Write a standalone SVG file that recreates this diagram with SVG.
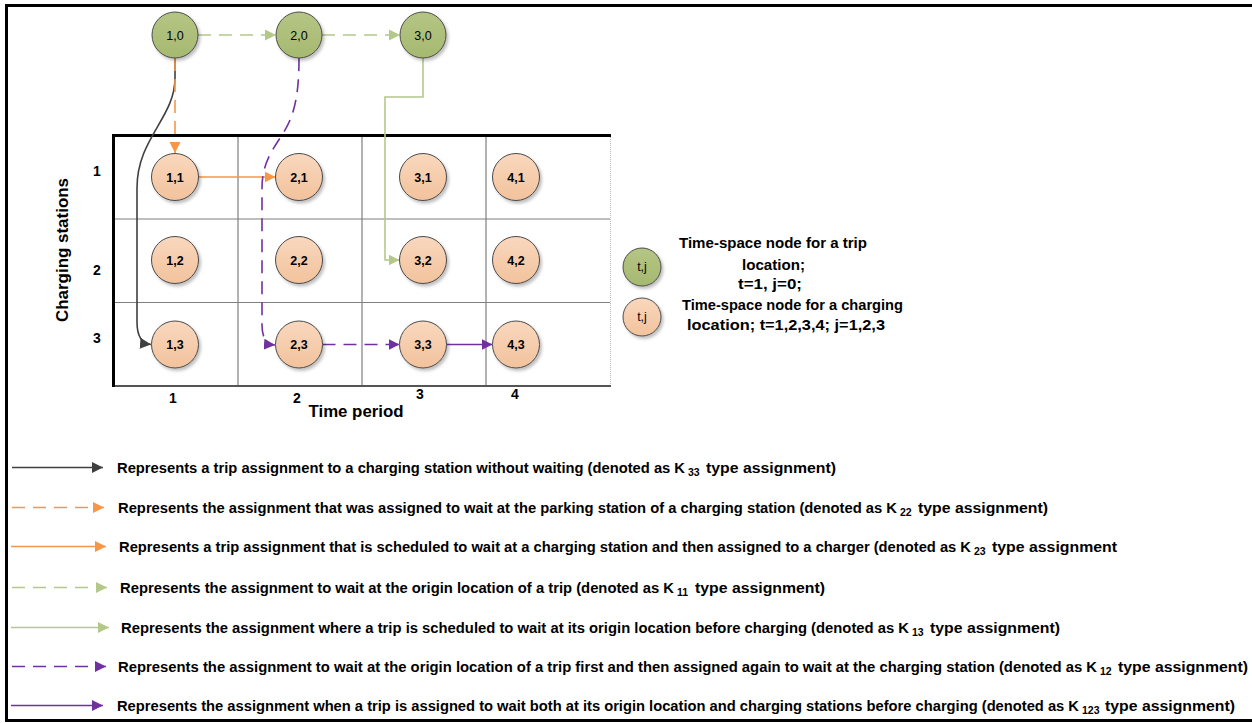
<svg xmlns="http://www.w3.org/2000/svg" width="1252" height="723" viewBox="0 0 1252 723">
  <style>
    text { font-family: "Liberation Sans", Arial, sans-serif; fill: #000; }
    .b { font-weight: bold; }
    .nl { font-size: 12.5px; font-weight: bold; text-anchor: middle; }
    .tl { font-size: 12.5px; text-anchor: middle; }
    .lg { font-size: 14.3px; font-weight: bold; }
    .sub { font-size: 10.5px; font-weight: bold; }
    .cs { fill: url(#gOrange); stroke: #4a4a4a; stroke-width: 1; filter: url(#sh); }
    .ts { fill: url(#gGreen); stroke: #4a4a4a; stroke-width: 1; filter: url(#sh); }
    .dark { stroke: #404040; }
    .orange { stroke: #F79646; }
    .green { stroke: #B4C88A; }
    .purple { stroke: #7030A0; }
    .ln { fill: none; stroke-width: 1.6; }
    .dash { stroke-dasharray: 13 8; }
    .grid { stroke: #7f7f7f; stroke-width: 1.2; fill: none; }
  </style>
  <defs>
    <linearGradient id="gOrange" x1="0" y1="0" x2="0" y2="1">
      <stop offset="0" stop-color="#F9D8BE"/>
      <stop offset="1" stop-color="#F2C29C"/>
    </linearGradient>
    <linearGradient id="gGreen" x1="0" y1="0" x2="0" y2="1">
      <stop offset="0" stop-color="#B5C585"/>
      <stop offset="1" stop-color="#A6B96F"/>
    </linearGradient>
    <filter id="sh" x="-30%" y="-30%" width="170%" height="170%">
      <feDropShadow dx="2" dy="2.5" stdDeviation="1.5" flood-color="#000" flood-opacity="0.25"/>
    </filter>
    <marker id="aDark" markerUnits="userSpaceOnUse" markerWidth="12" markerHeight="12" refX="11" refY="5.5" orient="auto">
      <path d="M0,0 L11,5.5 L0,11 Z" fill="#404040"/>
    </marker>
    <marker id="aOrange" markerUnits="userSpaceOnUse" markerWidth="12" markerHeight="12" refX="11" refY="5.5" orient="auto">
      <path d="M0,0 L11,5.5 L0,11 Z" fill="#F79646"/>
    </marker>
    <marker id="aGreen" markerUnits="userSpaceOnUse" markerWidth="12" markerHeight="12" refX="11" refY="5.5" orient="auto">
      <path d="M0,0 L11,5.5 L0,11 Z" fill="#B4C88A"/>
    </marker>
    <marker id="aPurple" markerUnits="userSpaceOnUse" markerWidth="12" markerHeight="12" refX="11" refY="5.5" orient="auto">
      <path d="M0,0 L11,5.5 L0,11 Z" fill="#7030A0"/>
    </marker>
  </defs>

  <rect width="1252" height="723" fill="#fff"/>
  <!-- outer frame (open on the right) -->
  <rect x="6.5" y="5.5" width="1270" height="715" fill="none" stroke="#000" stroke-width="3"/>

  <!-- time-space grid -->
  <g id="grid">
    <line class="grid" x1="113" y1="219" x2="610" y2="219"/>
    <line class="grid" x1="113" y1="302.5" x2="610" y2="302.5"/>
    <line class="grid" x1="238" y1="135" x2="238" y2="386"/>
    <line class="grid" x1="362" y1="135" x2="362" y2="386"/>
    <line class="grid" x1="486" y1="135" x2="486" y2="386"/>
    <line x1="610.5" y1="135" x2="610.5" y2="386" stroke="#b8b8b8" stroke-width="1" stroke-dasharray="1 1"/>
    <line x1="113" y1="386" x2="611" y2="386" stroke="#555" stroke-width="2"/>
    <line x1="112" y1="135.5" x2="611" y2="135.5" stroke="#000" stroke-width="3"/>
    <line x1="113.5" y1="134" x2="113.5" y2="387" stroke="#000" stroke-width="3"/>
  </g>

  <!-- axis labels -->
  <g id="axes">
    <text class="b" font-size="17" text-anchor="middle" textLength="144" lengthAdjust="spacingAndGlyphs" transform="translate(68,250) rotate(-90)">Charging stations</text>
    <text class="b" font-size="14" text-anchor="middle" x="97" y="176">1</text>
    <text class="b" font-size="14" text-anchor="middle" x="97" y="275">2</text>
    <text class="b" font-size="14" text-anchor="middle" x="97" y="343">3</text>
    <text class="b" font-size="14" text-anchor="middle" x="173" y="403">1</text>
    <text class="b" font-size="14" text-anchor="middle" x="297" y="403">2</text>
    <text class="b" font-size="14" text-anchor="middle" x="420" y="399">3</text>
    <text class="b" font-size="14" text-anchor="middle" x="515" y="399">4</text>
    <text class="b" font-size="17" text-anchor="middle" x="356" y="417" textLength="95" lengthAdjust="spacingAndGlyphs">Time period</text>
  </g>

  <!-- connectors -->
  <g id="connectors">
    <path class="ln green dash" d="M198,35 L276,35" marker-end="url(#aGreen)"/>
    <path class="ln green dash" d="M322,35 L400,35" marker-end="url(#aGreen)"/>
    <path class="ln dark" d="M175,58 L175,78 C175,118 137,138 137,188 L137,322 Q137,343 151,344.5" marker-end="url(#aDark)"/>
    <path class="ln orange dash" d="M175,58 L175,153" marker-end="url(#aOrange)"/>
    <path class="ln orange" d="M198.5,177 L275.5,177" marker-end="url(#aOrange)"/>
    <path class="ln purple dash" d="M299,58 C299,100 293,118 282,135 C270,153 262,166 262,188 L262,325 Q262,344 275,345" marker-end="url(#aPurple)"/>
    <path class="ln green" d="M423,58 L423,97 L385,97 L385,260 L399.5,260" marker-end="url(#aGreen)"/>
    <path class="ln purple dash" d="M322.5,344.5 L399.5,344.5" marker-end="url(#aPurple)"/>
    <path class="ln purple" d="M446.5,344.5 L492.5,344.5" marker-end="url(#aPurple)"/>
  </g>

  <!-- trip location nodes -->
  <g id="n1-0"><circle class="ts" cx="175" cy="35" r="23"/><text class="tl" x="175" y="39.5">1,0</text></g>
  <g id="n2-0"><circle class="ts" cx="299" cy="35" r="23"/><text class="tl" x="299" y="39.5">2,0</text></g>
  <g id="n3-0"><circle class="ts" cx="423" cy="35" r="23"/><text class="tl" x="423" y="39.5">3,0</text></g>

  <!-- charging station nodes -->
  <g id="n1-1"><circle class="cs" cx="175" cy="177" r="23.5"/><text class="nl" x="175" y="181.5">1,1</text></g>
  <g id="n2-1"><circle class="cs" cx="299" cy="177" r="23.5"/><text class="nl" x="299" y="181.5">2,1</text></g>
  <g id="n3-1"><circle class="cs" cx="423" cy="177" r="23.5"/><text class="nl" x="423" y="181.5">3,1</text></g>
  <g id="n4-1"><circle class="cs" cx="516" cy="177" r="23.5"/><text class="nl" x="516" y="181.5">4,1</text></g>
  <g id="n1-2"><circle class="cs" cx="175" cy="260" r="23.5"/><text class="nl" x="175" y="264.5">1,2</text></g>
  <g id="n2-2"><circle class="cs" cx="299" cy="260" r="23.5"/><text class="nl" x="299" y="264.5">2,2</text></g>
  <g id="n3-2"><circle class="cs" cx="423" cy="260" r="23.5"/><text class="nl" x="423" y="264.5">3,2</text></g>
  <g id="n4-2"><circle class="cs" cx="516" cy="260" r="23.5"/><text class="nl" x="516" y="264.5">4,2</text></g>
  <g id="n1-3"><circle class="cs" cx="175" cy="344.5" r="23.5"/><text class="nl" x="175" y="349">1,3</text></g>
  <g id="n2-3"><circle class="cs" cx="299" cy="344.5" r="23.5"/><text class="nl" x="299" y="349">2,3</text></g>
  <g id="n3-3"><circle class="cs" cx="423" cy="344.5" r="23.5"/><text class="nl" x="423" y="349">3,3</text></g>
  <g id="n4-3"><circle class="cs" cx="516" cy="344.5" r="23.5"/><text class="nl" x="516" y="349">4,3</text></g>

  <!-- node key -->
  <g id="key-trip">
    <circle class="ts" cx="642" cy="267" r="19"/>
    <text x="642" y="271" font-size="12.5" text-anchor="middle">t,j</text>
    <text class="b" font-size="15" text-anchor="middle" x="773" y="248" textLength="188" lengthAdjust="spacingAndGlyphs">Time-space node for a trip</text>
    <text class="b" font-size="15" text-anchor="middle" x="773.5" y="270" textLength="63" lengthAdjust="spacingAndGlyphs">location;</text>
    <text class="b" font-size="15" text-anchor="middle" x="770" y="289" textLength="64" lengthAdjust="spacingAndGlyphs">t=1, j=0;</text>
  </g>
  <g id="key-charging">
    <circle class="cs" cx="642" cy="317" r="19"/>
    <text x="642" y="321" font-size="12.5" text-anchor="middle">t,j</text>
    <text class="b" font-size="15" text-anchor="middle" x="792.5" y="310" textLength="221" lengthAdjust="spacingAndGlyphs">Time-space node for a charging</text>
    <text class="b" font-size="15" text-anchor="middle" x="786" y="330" textLength="198" lengthAdjust="spacingAndGlyphs">location; t=1,2,3,4; j=1,2,3</text>
  </g>

  <!-- line style key: sentence, subscript, closing words -->
  <g id="key-k33">
    <path class="ln dark" d="M12,467.5 L103,467.5" marker-end="url(#aDark)"/>
    <text class="lg" x="117" y="472.5" textLength="568" lengthAdjust="spacingAndGlyphs">Represents a trip assignment to a charging station without waiting (denoted as K</text>
    <text class="sub" x="688" y="475.5">33</text>
    <text class="lg" x="706" y="472.5" textLength="130" lengthAdjust="spacingAndGlyphs">type assignment)</text>
  </g>
  <g id="key-k22">
    <path class="ln orange dash" d="M12,507.5 L104,507.5" marker-end="url(#aOrange)"/>
    <text class="lg" x="118" y="512.5" textLength="779" lengthAdjust="spacingAndGlyphs">Represents the assignment that was assigned to wait at the parking station of a charging station (denoted as K</text>
    <text class="sub" x="900" y="515.5">22</text>
    <text class="lg" x="918" y="512.5" textLength="130" lengthAdjust="spacingAndGlyphs">type assignment)</text>
  </g>
  <g id="key-k23">
    <path class="ln orange" d="M11,546.5 L106,546.5" marker-end="url(#aOrange)"/>
    <text class="lg" x="119" y="551.5" textLength="852" lengthAdjust="spacingAndGlyphs">Represents a trip assignment that is scheduled to wait at a charging station and then assigned to a charger (denoted as K</text>
    <text class="sub" x="974" y="554.5">23</text>
    <text class="lg" x="992" y="551.5" textLength="125" lengthAdjust="spacingAndGlyphs">type assignment</text>
  </g>
  <g id="key-k11">
    <path class="ln green dash" d="M12,587.5 L107,587.5" marker-end="url(#aGreen)"/>
    <text class="lg" x="120" y="592.5" textLength="554" lengthAdjust="spacingAndGlyphs">Represents the assignment to wait at the origin location of a trip (denoted as K</text>
    <text class="sub" x="677" y="595.5">11</text>
    <text class="lg" x="695" y="592.5" textLength="130" lengthAdjust="spacingAndGlyphs">type assignment)</text>
  </g>
  <g id="key-k13">
    <path class="ln green" d="M11,627.5 L109,627.5" marker-end="url(#aGreen)"/>
    <text class="lg" x="121" y="632.5" textLength="788" lengthAdjust="spacingAndGlyphs">Represents the assignment where a trip is scheduled to wait at its origin location before charging (denoted as K</text>
    <text class="sub" x="912" y="635.5">13</text>
    <text class="lg" x="930" y="632.5" textLength="130" lengthAdjust="spacingAndGlyphs">type assignment)</text>
  </g>
  <g id="key-k12">
    <path class="ln purple dash" d="M12,666.5 L106,666.5" marker-end="url(#aPurple)"/>
    <text class="lg" x="118" y="671.5" textLength="979" lengthAdjust="spacingAndGlyphs">Represents the assignment to wait at the origin location of a trip first and then assigned again to wait at the charging station (denoted as K</text>
    <text class="sub" x="1100" y="674.5">12</text>
    <text class="lg" x="1118" y="671.5" textLength="130" lengthAdjust="spacingAndGlyphs">type assignment)</text>
  </g>
  <g id="key-k123">
    <path class="ln purple" d="M11,705.5 L103,705.5" marker-end="url(#aPurple)"/>
    <text class="lg" x="117" y="710.5" textLength="962" lengthAdjust="spacingAndGlyphs">Represents the assignment when a trip is assigned to wait both at its origin location and charging stations before charging (denoted as K</text>
    <text class="sub" x="1082" y="713.5">123</text>
    <text class="lg" x="1105" y="710.5" textLength="130" lengthAdjust="spacingAndGlyphs">type assignment)</text>
  </g>
</svg>
